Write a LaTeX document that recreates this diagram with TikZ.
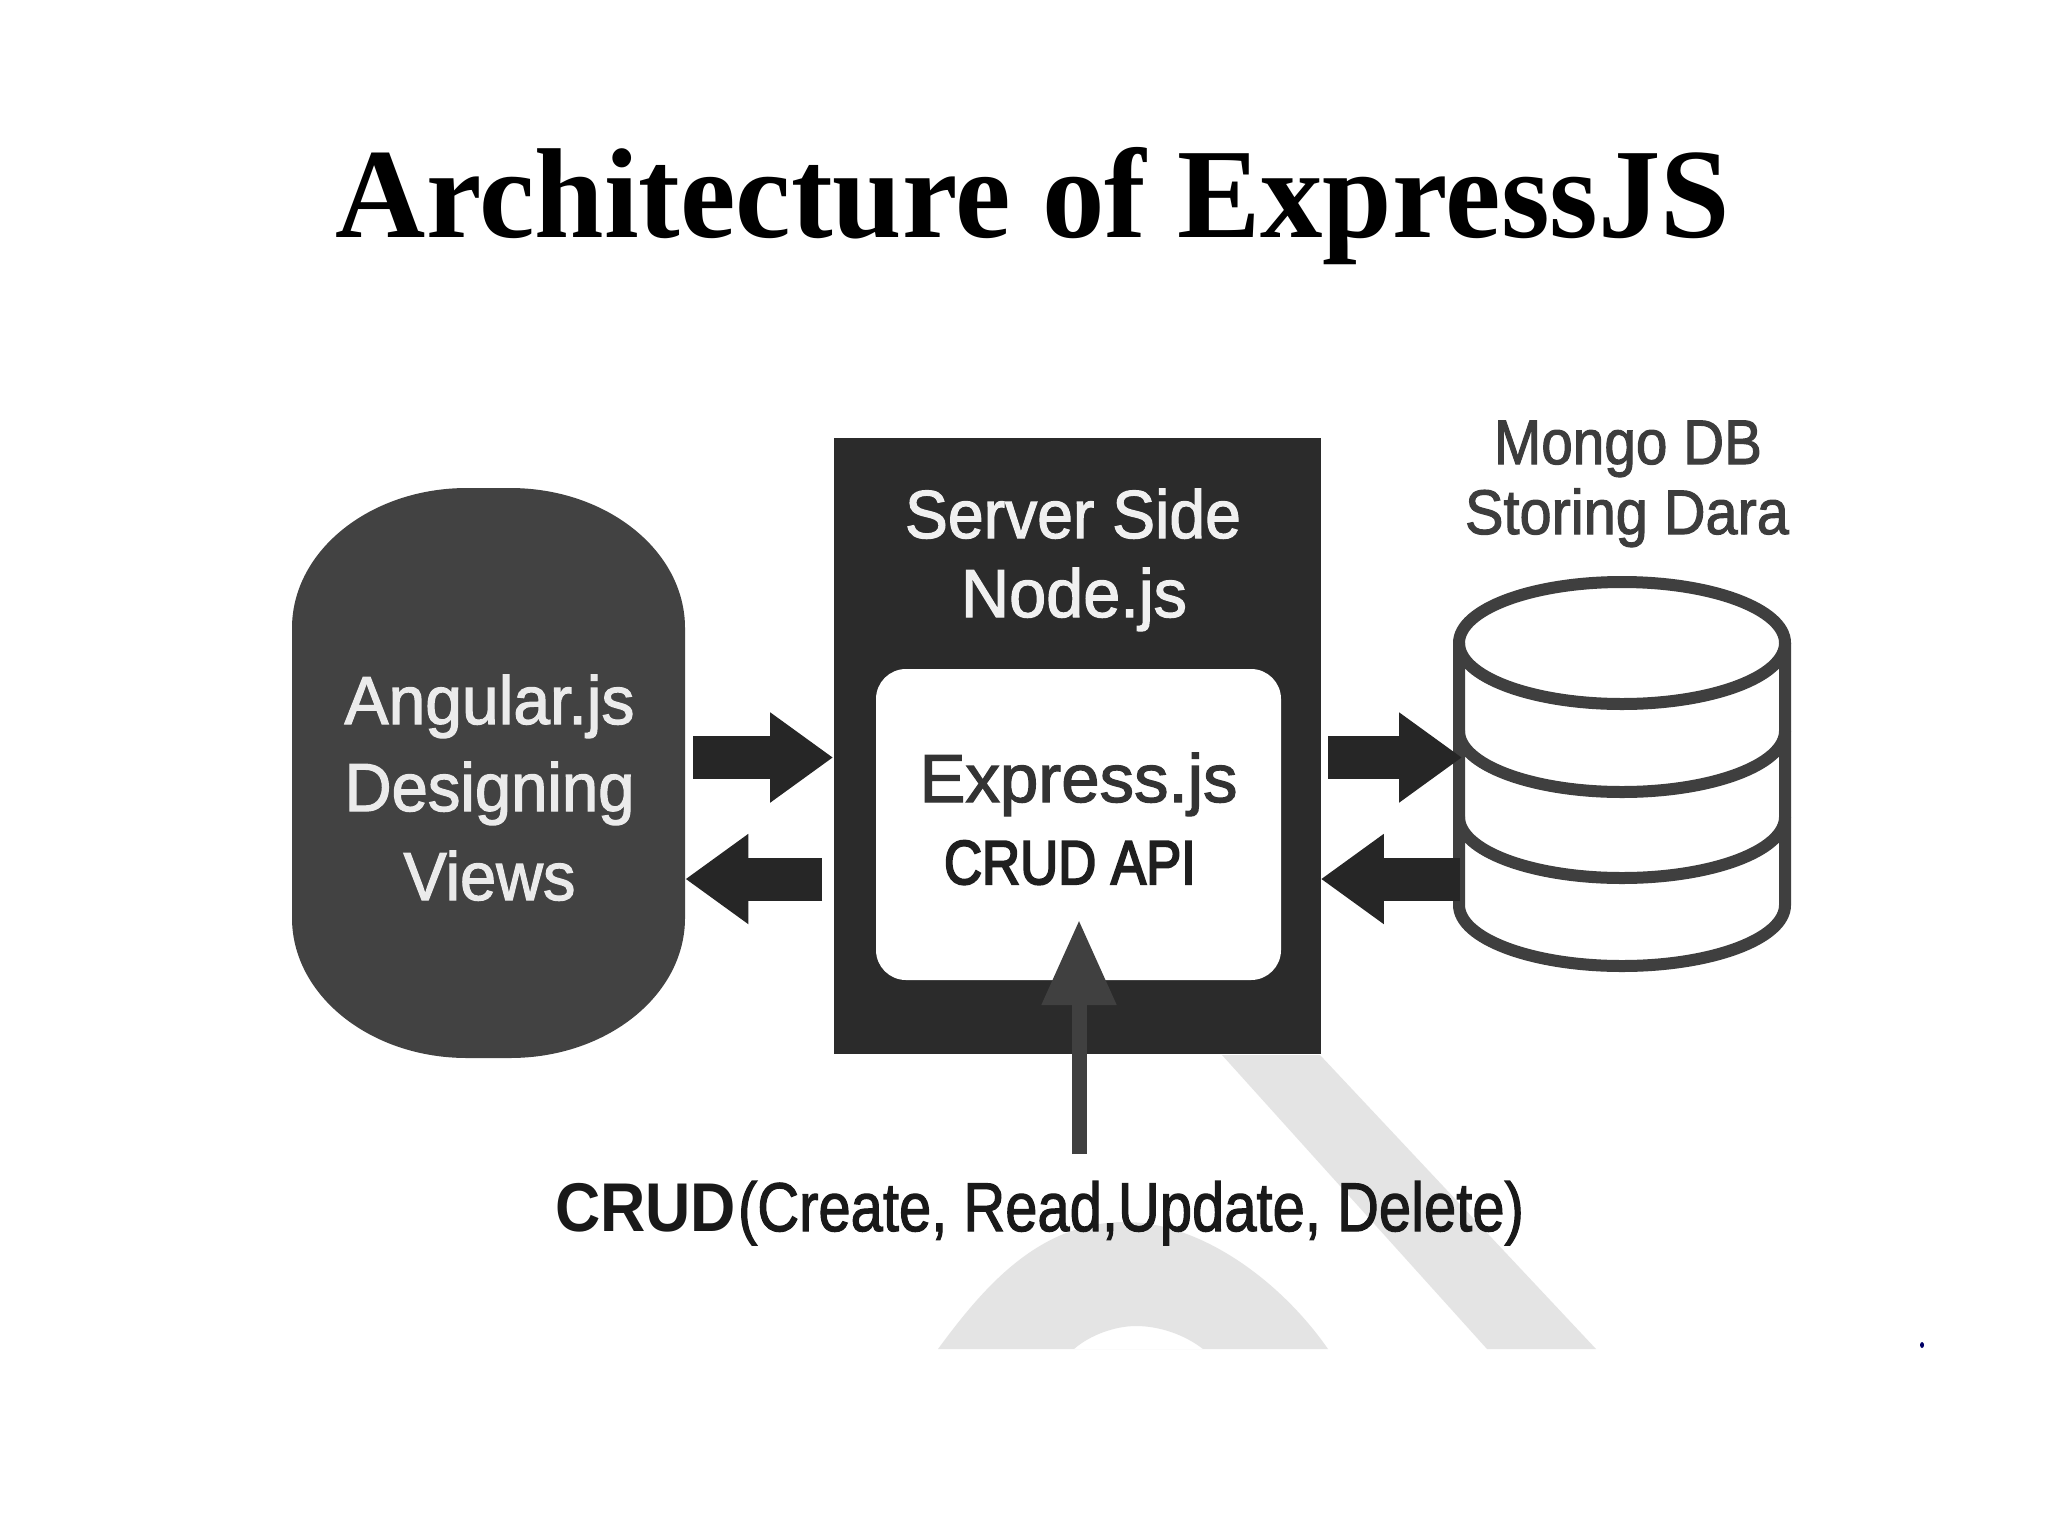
\documentclass[tikz,border=0pt]{standalone}
\usepackage{fontspec}
\usepackage{graphicx}
\setmainfont{Liberation Sans}
\newfontfamily\medfont[FakeBold=1.8]{Liberation Sans}
\newfontfamily\strongfont[FakeBold=3.5]{Liberation Sans}
\newfontfamily\titlefont{Liberation Serif}
\usetikzlibrary{arrows.meta}
\newsavebox\fitbox
\newcommand\fitw[2]{\sbox\fitbox{#2}\resizebox{#1}{\ht\fitbox}{\usebox\fitbox}}
\newcommand\fs[1]{\fontsize{#1pt}{#1pt}\selectfont}
\definecolor{boxc}{HTML}{2B2B2B}
\definecolor{pillc}{HTML}{424242}
\definecolor{arrc}{HTML}{262626}
\definecolor{cylc}{HTML}{3F3F3F}
\definecolor{markc}{HTML}{E4E4E4}
\definecolor{shaftc}{HTML}{404040}
\tikzset{
  txt/.style={inner sep=0pt,outer sep=0pt,anchor=base},
  blockarrow/.style={draw=arrc,line width=21.5pt,-{Triangle[length=31.5pt,width=43pt]}},
  thinarrow/.style={draw=shaftc,line width=7.5pt,-{Triangle[length=42.5pt,width=35.5pt]}},
  serverbox/.style={fill=boxc,inner sep=0pt,minimum width=243.5pt,minimum height=308pt},
  innerbox/.style={fill=white,inner sep=0pt,rounded corners=15pt,minimum width=202.5pt,minimum height=155.5pt},
  cyl/.style={draw=cylc,line width=6pt},
}
\begin{document}
\begin{tikzpicture}[x=.5pt,y=-.5pt]
\useasboundingbox[fill=white] (0,0) rectangle (2048,1536);
% watermark
\fill[markc] (1222,1055) -- (1320,1055) -- (1596,1349) -- (1487,1349) -- cycle;
\fill[markc,even odd rule] (938,1349) .. controls (985,1285) and (1040,1222) .. (1125,1222)
  .. controls (1200,1222) and (1280,1280) .. (1328,1349) -- cycle
  (1074,1349) .. controls (1090,1335) and (1115,1326) .. (1136,1326)
  .. controls (1160,1326) and (1185,1335) .. (1203,1349) -- cycle;
% pill
\fill[pillc] (292,628) arc (180:270:175 and 140) -- (510,488) arc (270:360:175 and 140)
  -- (685,918) arc (0:90:175 and 140) -- (467,1058) arc (90:180:175 and 140) -- cycle;
\node[inner sep=0pt,minimum width=196.5pt,minimum height=285pt] (pill) at (488.5,773) {};
% server
\node[serverbox] (server) at (1077,745.5) {};
\node[innerbox] (inner) at (1078.5,824.5) {};
% cylinder
\fill[white] (1459,643) arc (180:360:163 and 61) -- (1785,905) arc (0:180:163 and 61) -- cycle;
\draw[cyl,fill=white] (1622,643) ellipse (163 and 61);
\draw[cyl] (1459,643) -- (1459,905) arc (180:0:163 and 61) -- (1785,643);
\draw[cyl] (1459,731) arc (180:0:163 and 61);
\draw[cyl] (1459,817) arc (180:0:163 and 61);
\coordinate (db1) at (1462,757.5);
\coordinate (db2) at (1460,879);
% arrows
\coordinate (a1s) at (693,757.5);
\coordinate (a1e) at (server.west |- a1s);
\coordinate (a2s) at (822,879);
\coordinate (a2e) at (pill.east |- a2s);
\coordinate (a3s) at (1328,757.5);
\coordinate (a4e) at (server.east |- db2);
\draw[blockarrow] (a1s) -- (a1e);
\draw[blockarrow] (a2s) -- (a2e);
\draw[blockarrow] (a3s) -- (db1);
\draw[blockarrow] (db2) -- (a4e);
% texts
\node[txt] (title) at (1033,237) {\fitw{697pt}{\titlefont\bfseries\fs{64}Architecture of ExpressJS}};
\node[txt,text=white!94!black] (t1) at (1073,538) {\fitw{168pt}{\medfont\fs{34}Server Side}};
\node[txt,text=white!94!black] (t2) at (1074,617) {\fitw{113pt}{\medfont\fs{34}Node.js}};
\node[txt,text=white!92!black] (t3) at (489.5,724) {\fitw{145pt}{\medfont\fs{34}Angular.js}};
\node[txt,text=white!92!black] (t4) at (489.5,811) {\fitw{145pt}{\medfont\fs{34}Designing}};
\node[txt,text=white!92!black] (t5) at (489.5,900) {\fitw{86pt}{\medfont\fs{34}Views}};
\node[txt,text=black!80] (t6) at (1078.5,802) {\fitw{159pt}{\medfont\fs{34}Express.js}};
\node[txt,text=black!88] (t7) at (1070,884) {\fitw{126pt}{\strongfont\fs{31}CRUD API}};
\node[txt,text=black!76] (t8) at (1628,464) {\fitw{134pt}{\medfont\fs{31.5}Mongo DB}};
\node[txt,text=black!76] (t9) at (1627,534) {\fitw{162pt}{\medfont\fs{31.5}Storing Dara}};
\node[txt,text=black!90] (crud) at (1039.5,1231) {\fitw{90.5pt}{\bfseries\fs{34.5}CRUD}\hspace{1pt}\fitw{393pt}{\medfont\fs{34.5}(Create, Read,Update, Delete)}};
\coordinate (vs) at (1079,1154);
\coordinate (ve) at (1079,920);
\draw[thinarrow] (vs) -- (ve);
% stray dot
\fill[blue!40!black] (1922,1345) ellipse (2 and 3);
\end{tikzpicture}
\end{document}
